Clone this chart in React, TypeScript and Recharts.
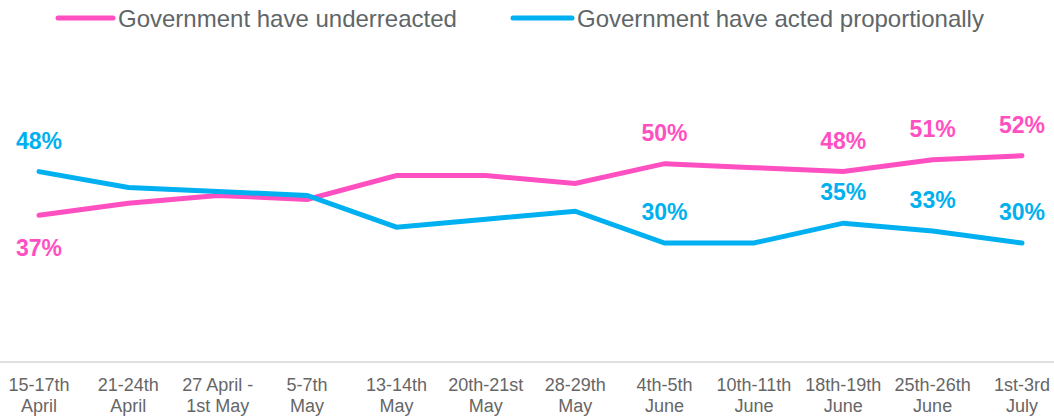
import React from "react";
import { LineChart, Line, XAxis, YAxis, LabelList } from "recharts";

// survey waves (two-line tick labels)
const WAVES: [string, string][] = [
  ["15-17th", "April"],
  ["21-24th", "April"],
  ["27 April -", "1st May"],
  ["5-7th", "May"],
  ["13-14th", "May"],
  ["20th-21st", "May"],
  ["28-29th", "May"],
  ["4th-5th", "June"],
  ["10th-11th", "June"],
  ["18th-19th", "June"],
  ["25th-26th", "June"],
  ["1st-3rd", "July"],
];

const UNDERREACTED = [37, 40, 42, 41, 47, 47, 45, 50, 49, 48, 51, 52];
const PROPORTIONAL = [48, 44, 43, 42, 34, 36, 38, 30, 30, 35, 33, 30];

// which waves get a value label
const LABELLED = [0, 7, 9, 10, 11];

const PINK = "#FF4FC1";
const BLUE = "#00B0F0";
const FONT = "Arial, 'Liberation Sans', sans-serif";

const data = WAVES.map((w, i) => ({
  wave: w.join(" "),
  under: UNDERREACTED[i],
  prop: PROPORTIONAL[i],
}));

function WaveTick(props: any) {
  const { x, y, index } = props;
  const [a, b] = WAVES[index];
  return (
    <text x={x} y={y} textAnchor="middle" fill="#666666" fontSize={18} fontFamily={FONT}>
      <tspan x={x} y={y + 29}>{a}</tspan>
      <tspan x={x} y={y + 50}>{b}</tspan>
    </text>
  );
}

function makeLabel(color: string, belowFirst: boolean) {
  return function ValueLabel(props: any) {
    const { x, y, value, index } = props;
    if (!LABELLED.includes(index)) return null;
    const below = belowFirst && index === 0;
    return (
      <text
        x={x}
        y={below ? y + 41 : y - 23}
        textAnchor="middle"
        fill={color}
        fontSize={23}
        fontWeight="bold"
        fontFamily={FONT}
      >
        {value}%
      </text>
    );
  };
}

function LegendItem({ x1, x2, color, text }: { x1: number; x2: number; color: string; text: string }) {
  return (
    <g>
      <line x1={x1} x2={x2} y1={18} y2={18} stroke={color} strokeWidth={5} strokeLinecap="round" />
      <text x={x2 + 5} y={27} fill="#5f6668" fontSize={24} fontFamily={FONT}>
        {text}
      </text>
    </g>
  );
}

export default function App() {
  return (
    <div style={{ position: "relative", width: 1054, height: 417, background: "#fff" }}>
      <style>{`body{margin:0}`}</style>
      <svg width={1054} height={40} style={{ position: "absolute", left: 0, top: 0 }}>
        <LegendItem x1={58} x2={113} color={PINK} text="Government have underreacted" />
        <LegendItem x1={513} x2={572} color={BLUE} text="Government have acted proportionally" />
      </svg>
      <LineChart
        width={1054}
        height={417}
        data={data}
        margin={{ top: 124, right: 0, bottom: 0, left: 0 }}
      >
        <XAxis
          dataKey="wave"
          scale="point"
          padding={{ left: 39, right: 32 }}
          height={55}
          tickLine={false}
          tickSize={0}
          tickMargin={0}
          axisLine={{ stroke: "#e0e0e0", strokeWidth: 2 }}
          tick={<WaveTick />}
          interval={0}
        />
        <YAxis hide domain={[0, 60]} />
        <Line
          dataKey="under"
          stroke={PINK}
          strokeWidth={5}
          strokeLinecap="round"
          dot={false}
          type="linear"
          isAnimationActive={false}
        >
          <LabelList dataKey="under" content={makeLabel(PINK, true)} />
        </Line>
        <Line
          dataKey="prop"
          stroke={BLUE}
          strokeWidth={5}
          strokeLinecap="round"
          dot={false}
          type="linear"
          isAnimationActive={false}
        >
          <LabelList dataKey="prop" content={makeLabel(BLUE, false)} />
        </Line>
      </LineChart>
    </div>
  );
}
